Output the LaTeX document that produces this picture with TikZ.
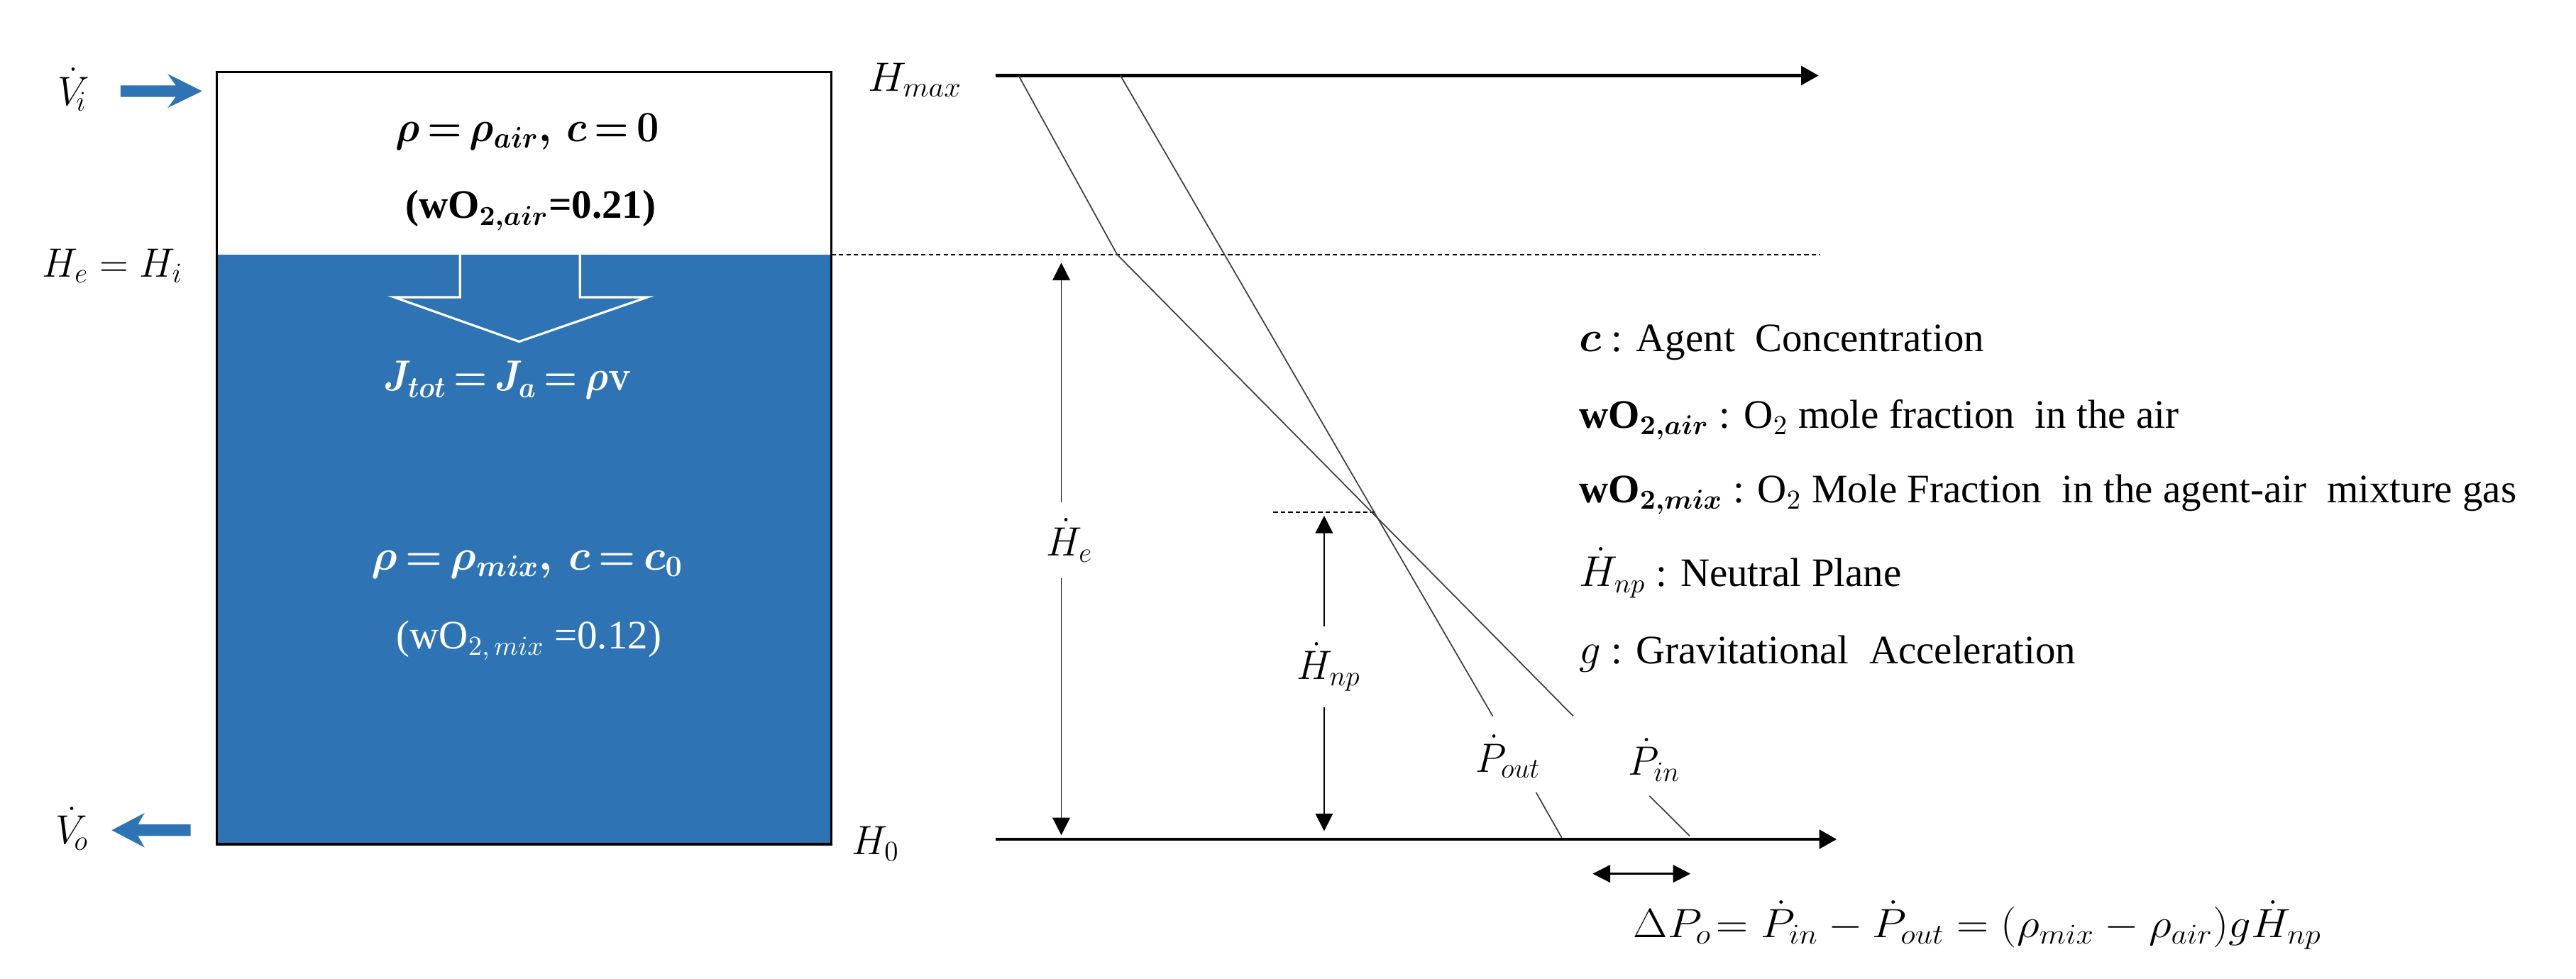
\documentclass[tikz,border=0pt]{standalone}
\usepackage{amsmath}
\usepackage{graphicx}
\usepackage{fontspec}
\setmainfont{Liberation Serif}
\usetikzlibrary{arrows.meta}
\definecolor{fillblue}{HTML}{2E74B5}
\newcommand{\txtsize}{\fontsize{16.2}{20}\selectfont\thickmuskip=3mu\medmuskip=2mu}
\newcommand{\bigsize}{\fontsize{18}{22}\selectfont\thickmuskip=3mu\medmuskip=2mu}
\newcommand{\boldsize}{\fontsize{17}{21}\selectfont\thickmuskip=3mu\medmuskip=2mu}
\newcommand{\narrow}[1]{\scalebox{0.93}[0.95]{#1}}
\tikzset{
  lbl/.style={inner sep=0pt,font=\txtsize},
  big/.style={inner sep=0pt,font=\bigsize},
  boldlbl/.style={inner sep=0pt,font=\boldsize,anchor=base,transform shape},
  lgd/.style={inner sep=0pt,anchor=base west,font=\txtsize},
  axis/.style={line width=1.3pt,-{Triangle[length=7pt,width=7.5pt]}},
  dimline/.style={line width=0.5pt,-{Triangle[length=7pt,width=7pt]}},
  curve/.style={line width=0.5pt,draw=black!75},
  dotl/.style={line width=0.5pt,dash pattern=on 1.8pt off 1.2pt},
  flow/.style={fill=fillblue,draw=none}
}
\begin{document}
\begin{tikzpicture}[x=0.02315cm,y=-0.02315cm]
\useasboundingbox (0,0) rectangle (1568,596);
% tank
\fill[fillblue] (132,155) rectangle (506,514);
\draw[line width=0.9pt] (132,44) rectangle (506,514);
% hollow arrow
\draw[white,line width=0.9pt,line join=miter] (280,155) -- (280,181) -- (240,181) -- (316,208) -- (394,181) -- (353,181) -- (353,155);
% flow arrows
\fill[flow] (73.4,52) -- (107,52) -- (102,45) -- (123,55.5) -- (102,65.7) -- (107,59) -- (73.4,59) -- cycle;
\fill[flow] (116,502) -- (84,502) -- (88,495) -- (68,505.5) -- (88,516) -- (84,509) -- (116,509) -- cycle;
% tank labels
\node[big,anchor=base] (vi) at (44,64) {\narrow{$\dot{V}_{\!i}$}};
\node[big,anchor=base] (vo) at (44,514) {\narrow{$\dot{V}_{\!o}$}};
\node[big,anchor=base] (hehi) at (68.5,168.5) {\narrow{\thickmuskip=5mu $H_e=H_i$}};
\node[big,anchor=base] (hmax) at (557,55.3) {\scalebox{1}[0.95]{$H_{max}$}};
\node[big,anchor=base] (hzero) at (533,520.5) {\narrow{$H_0$}};
\begin{scope}[shift={(321,86)},xscale=0.917]
\node[boldlbl] (t1) at (0,0) {{\boldmath$\rho=\rho_{air},\,c=0$}};
\end{scope}
\node[lbl,anchor=base] (t2) at (323,133) {{\bfseries\boldmath (wO$_{2,air}$=0.21)}};
\begin{scope}[shift={(309,238)},xscale=0.887]
\node[boldlbl,text=white] (t3) at (0,0) {{\boldmath$J_{tot}=J_a=\rho\mathbf{v}$}};
\end{scope}
\begin{scope}[shift={(321,347)},xscale=0.98]
\node[boldlbl,text=white] (t4) at (0,0) {{\boldmath$\rho=\rho_{mix},\,c=c_0$}};
\end{scope}
\node[lbl,anchor=base,text=white] (t5) at (322,395) {(wO$_{2,\,mix}$ =0.12)};
% axes
\coordinate (topa) at (606,46);
\coordinate (topb) at (1107,46);
\coordinate (bota) at (606,511);
\coordinate (botb) at (1118,511);
\draw[axis] (topa) -- (topb);
\draw[axis] (bota) -- (botb);
\coordinate (dl) at (506,155);
\coordinate (dr) at (1108,155);
\draw[dotl] (dl) -- (dr);
\coordinate (npa) at (775,312);
\coordinate (npb) at (838,312);
\draw[dotl] (npa) -- (npb);
% pressure lines
\coordinate (a1) at (620,46);
\coordinate (a2) at (680,155);
\coordinate (a3) at (957.6,436);
\coordinate (a4) at (1004,484.6);
\coordinate (a5) at (1028.5,509);
\coordinate (b1) at (682,46);
\coordinate (b2) at (908.6,436);
\coordinate (b3) at (935,482.5);
\coordinate (b4) at (950.6,510);
\draw[curve] (a1) -- (a2) -- (a3);
\draw[curve] (a4) -- (a5);
\draw[curve] (b1) -- (b2);
\draw[curve] (b3) -- (b4);
% dimensions
\node[big,minimum height=30pt] (he) at (651,329) {\narrow{$\dot{H}_e$}};
\node[big,minimum height=32pt] (hnp) at (808.8,406) {\narrow{$\dot{H}_{np}$}};
\coordinate (hea) at (646,160);
\coordinate (heb) at (646,508.5);
\coordinate (npc) at (806,314);
\coordinate (npd) at (806,506);
\draw[dimline] (he.north -| hea) -- (hea);
\draw[dimline] (he.south -| hea) -- (heb);
\draw[dimline] (hnp.north -| npc) -- (npc);
\draw[dimline] (hnp.south -| npc) -- (npd);
\node[big,anchor=base] (pout) at (918,470) {\narrow{$\dot{P}_{out}$}};
\node[big,anchor=base] (pin) at (1007,472) {\narrow{$\dot{P}_{in}$}};
\coordinate (da) at (969.5,532);
\coordinate (db) at (1029,532);
\draw[line width=0.7pt,{Triangle[length=7pt,width=7pt]}-{Triangle[length=7pt,width=7pt]}] (da) -- (db);
\node[big,anchor=base west] (eq) at (994,571) {\scalebox{1.03}[0.95]{\thickmuskip=5mu\medmuskip=4mu $\Delta P_o\!=\dot{P}_{in}-\dot{P}_{out}=(\rho_{mix}-\rho_{air})g\dot{H}_{np}$}};
% legend
\node[lgd] (l1) at (961,214) {{\boldmath$c$} : Agent\ \ Concentration};
\node[lgd] (l2) at (961,260.6) {{\bfseries\boldmath wO$_{2,air}$} : O$_2$ mole fraction\ \ in the air};
\node[lgd] (l3) at (961,306) {{\bfseries\boldmath wO$_{2,mix}$} : O$_2$ Mole Fraction\ \ in the agent-air\ \ mixture gas};
\node[lgd] (l4) at (961,357) {$\dot{H}_{np}$ : Neutral Plane};
\node[lgd] (l5) at (961,404) {$g$ : Gravitational\ \ Acceleration};
\end{tikzpicture}
\end{document}
